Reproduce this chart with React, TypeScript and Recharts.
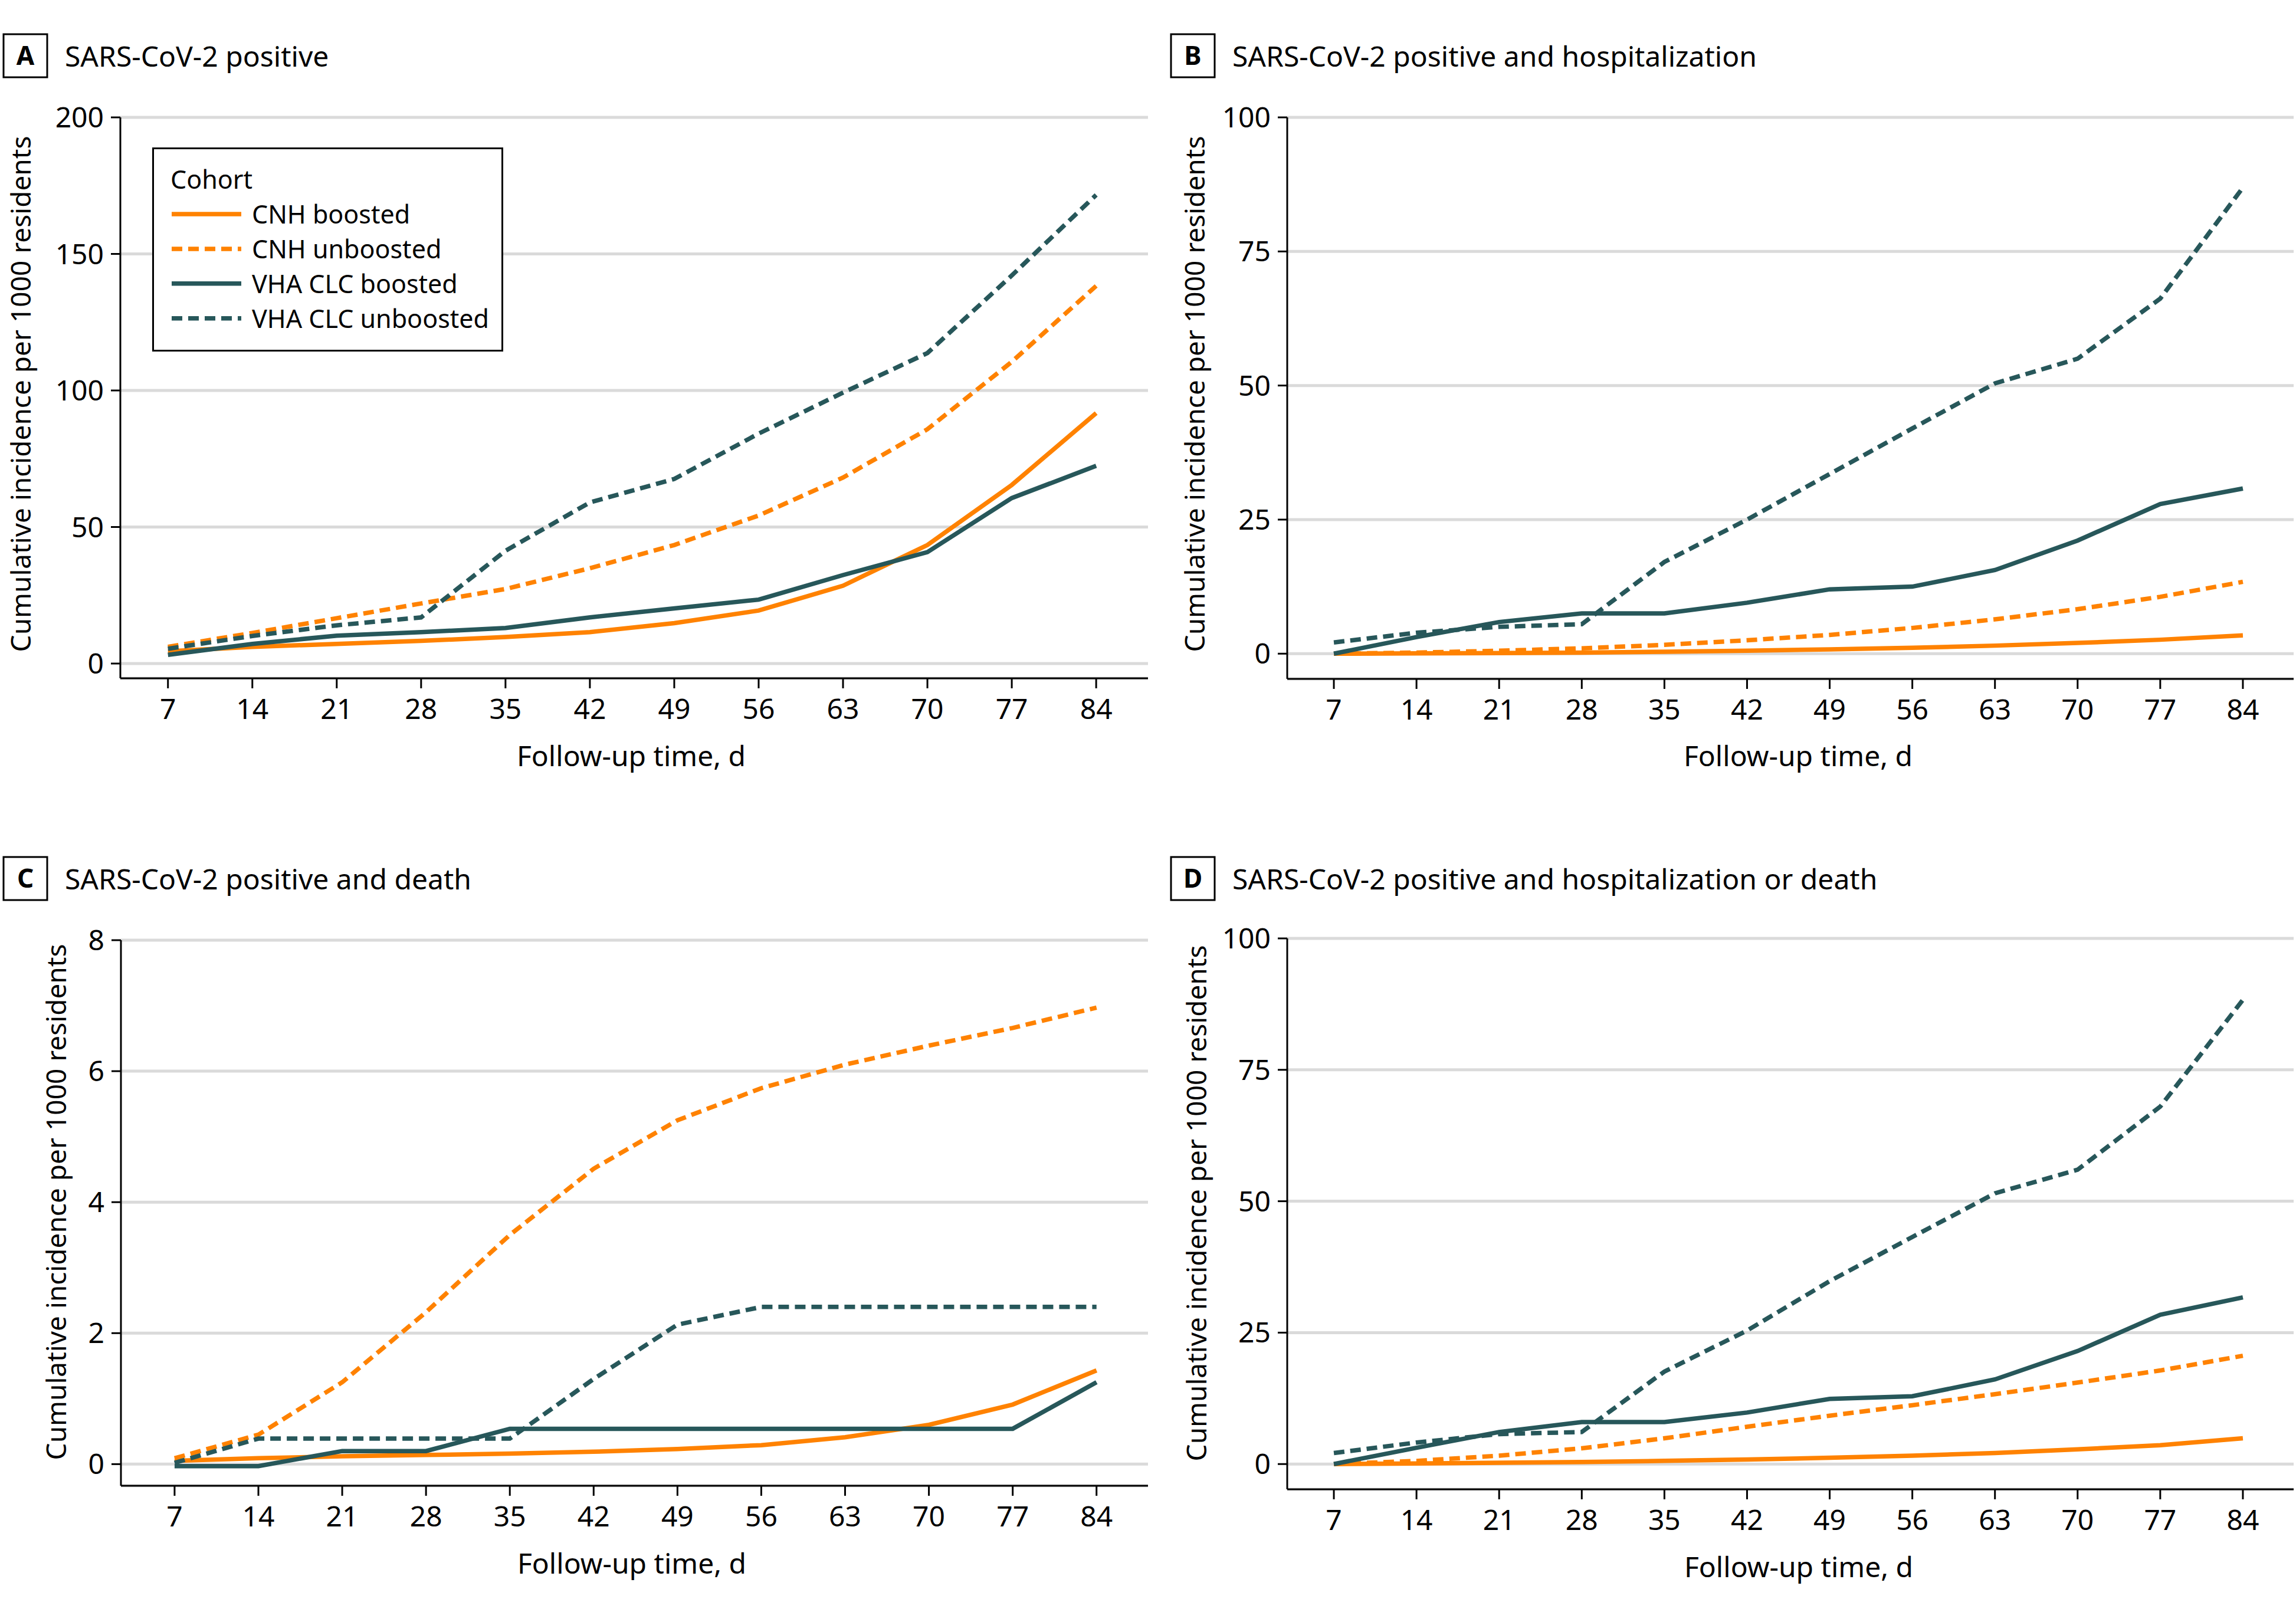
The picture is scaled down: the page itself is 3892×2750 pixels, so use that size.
import { LineChart, Line, XAxis, YAxis, CartesianGrid, Legend } from 'recharts'

const ORANGE = '#ff8200'
const TEAL = '#27575a'
const GRID = '#dadada'
const FONT = '"Noto Sans", "DejaVu Sans", sans-serif'

const DAYS = [7, 14, 21, 28, 35, 42, 49, 56, 63, 70, 77, 84]

// A: SARS-CoV-2 positive
const A_CNH_BOOSTED = [4.5, 6.1, 7.2, 8.3, 9.7, 11.5, 14.8, 19.4, 28.5, 43.4, 65.4, 91.7]
const A_CNH_UNBOOSTED = [6.1, 11.2, 16.6, 22.0, 27.3, 34.9, 43.4, 54.2, 68.1, 85.8, 110.5, 138.3]
const A_VHA_BOOSTED = [3.2, 7.2, 10.2, 11.5, 13.0, 16.9, 20.2, 23.4, 32.4, 40.8, 60.6, 72.4]
const A_VHA_UNBOOSTED = [5.4, 10.1, 14.0, 16.9, 41.3, 59.0, 67.6, 84.2, 99.2, 113.7, 142.1, 171.6]

// B: positive and hospitalization
const B_CNH_BOOSTED = [0, 0.05, 0.1, 0.2, 0.35, 0.55, 0.8, 1.1, 1.5, 2.0, 2.6, 3.4]
const B_CNH_UNBOOSTED = [0, 0.2, 0.55, 1.0, 1.65, 2.5, 3.5, 4.8, 6.4, 8.3, 10.6, 13.4]
const B_VHA_BOOSTED = [0, 3.1, 5.9, 7.5, 7.5, 9.5, 12.0, 12.5, 15.6, 21.1, 27.9, 30.8]
const B_VHA_UNBOOSTED = [2.1, 3.9, 5.0, 5.5, 17.1, 25.0, 33.5, 42.0, 50.4, 55.0, 66.2, 86.9]

// C: positive and death
const C_CNH_BOOSTED = [0.05, 0.09, 0.12, 0.14, 0.16, 0.19, 0.23, 0.29, 0.41, 0.6, 0.91, 1.43]
const C_CNH_UNBOOSTED = [0.09, 0.45, 1.25, 2.32, 3.5, 4.51, 5.25, 5.74, 6.1, 6.39, 6.66, 6.97]
const C_VHA_BOOSTED = [-0.03, -0.03, 0.2, 0.2, 0.54, 0.54, 0.54, 0.54, 0.54, 0.54, 0.54, 1.25]
const C_VHA_UNBOOSTED = [0.02, 0.39, 0.39, 0.39, 0.39, 1.3, 2.13, 2.4, 2.4, 2.4, 2.4, 2.4]

// D: positive and hospitalization or death
const D_CNH_BOOSTED = [0, 0.1, 0.26, 0.4, 0.6, 0.86, 1.2, 1.6, 2.1, 2.8, 3.6, 4.9]
const D_CNH_UNBOOSTED = [0, 0.6, 1.6, 3.0, 4.9, 7.1, 9.2, 11.2, 13.3, 15.5, 17.8, 20.6]
const D_VHA_BOOSTED = [0, 3.1, 6.1, 8.0, 8.0, 9.8, 12.4, 12.9, 16.1, 21.5, 28.4, 31.7]
const D_VHA_UNBOOSTED = [2.1, 4.1, 5.7, 6.1, 17.6, 25.4, 34.8, 43.2, 51.5, 56.0, 68.0, 88.3]

const TICKS_200 = [0, 50, 100, 150, 200]
const TICKS_100 = [0, 25, 50, 75, 100]
const TICKS_8 = [0, 2, 4, 6, 8]

const SERIES = [
  { key: 'cnhB', name: 'CNH boosted', color: ORANGE, dash: undefined },
  { key: 'cnhU', name: 'CNH unboosted', color: ORANGE, dash: '18 10' },
  { key: 'vhaB', name: 'VHA CLC boosted', color: TEAL, dash: undefined },
  { key: 'vhaU', name: 'VHA CLC unboosted', color: TEAL, dash: '18 10' },
]

const Y_LABEL = 'Cumulative incidence per 1000 residents'
const X_LABEL = 'Follow-up time, d'

function rows(cnhB: number[], cnhU: number[], vhaB: number[], vhaU: number[]) {
  return DAYS.map((day, i) => ({ day, cnhB: cnhB[i], cnhU: cnhU[i], vhaB: vhaB[i], vhaU: vhaU[i] }))
}

function CohortLegend() {
  return (
    <div style={{ width: 595, height: 346, boxSizing: 'border-box', border: '3px solid #000', background: '#fff', fontFamily: FONT }}>
      <svg width={589} height={340}>
        <text x={28} y={67} fontSize={43} fill="#000">Cohort</text>
        {SERIES.map((s, i) => {
          const y = 110 + i * 58.9
          return (
            <g key={s.key}>
              <line x1={30} x2={148} y1={y} y2={y} stroke={s.color} strokeWidth={7.5} strokeDasharray={s.dash} />
              <text x={166} y={y + 16} fontSize={43} fill="#000">{s.name}</text>
            </g>
          )
        })}
      </svg>
    </div>
  )
}

interface PanelProps {
  left: number
  top: number
  width: number
  margin: { top: number; right: number; bottom: number; left: number }
  yWidth: number
  xDomain: [number, number]
  yDomain: [number, number]
  yTicks: number[]
  data: ReturnType<typeof rows>
  legend?: boolean
}

function Panel({ left, top, width, margin, yWidth, xDomain, yDomain, yTicks, data, legend }: PanelProps) {
  const axis = { stroke: '#000', strokeWidth: 3 }
  return (
    <div style={{ position: 'absolute', left, top }}>
      <LineChart width={width} height={1340} data={data} margin={margin}>
        <CartesianGrid vertical={false} stroke={GRID} strokeWidth={5} />
        <XAxis
          type="number" dataKey="day" domain={xDomain} ticks={DAYS} interval={0} allowDataOverflow
          height={120} tickSize={17} tickMargin={18} axisLine={axis} tickLine={axis}
          tick={{ fontSize: 48, fill: '#000', fontFamily: FONT }}
        />
        <YAxis
          domain={yDomain} ticks={yTicks} interval={0} allowDataOverflow width={yWidth}
          tickSize={16} tickMargin={12} axisLine={axis} tickLine={axis}
          tick={{ fontSize: 48, fill: '#000', fontFamily: FONT }}
        />
        {SERIES.map((s) => (
          <Line
            key={s.key} type="linear" dataKey={s.key} name={s.name} stroke={s.color} strokeWidth={7.5}
            strokeDasharray={s.dash} dot={false} activeDot={false} isAnimationActive={false}
          />
        ))}
        {legend && (
          <Legend
            layout="vertical" align="center" verticalAlign="middle"
            wrapperStyle={{ left: 258, top: 250, width: 595, height: 346 }}
            content={() => <CohortLegend />}
          />
        )}
      </LineChart>
    </div>
  )
}

const TITLES = [
  { letter: 'A', text: 'SARS-CoV-2 positive', bx: 6, by: 58 },
  { letter: 'B', text: 'SARS-CoV-2 positive and hospitalization', bx: 1985, by: 58 },
  { letter: 'C', text: 'SARS-CoV-2 positive and death', bx: 6, by: 1453 },
  { letter: 'D', text: 'SARS-CoV-2 positive and hospitalization or death', bx: 1985, by: 1453 },
]

const Y_LABELS = [
  { x: 52, y: 668 },
  { x: 2042, y: 668 },
  { x: 112, y: 2038 },
  { x: 2045, y: 2040 },
]

const X_LABELS = [
  { x: 1070, y: 1299 },
  { x: 3048, y: 1299 },
  { x: 1071, y: 2668 },
  { x: 3049, y: 2674 },
]

export default function App() {
  return (
    <div style={{ position: 'absolute', left: 0, top: 0, width: 3892, height: 2750, background: '#fff', overflow: 'hidden' }}>
      <Panel
        left={0} top={0} width={1960} margin={{ top: 199, right: 14, bottom: 70, left: 0 }} yWidth={204}
        xDomain={[3.05, 88.3]} yDomain={[-5.4, 200]} yTicks={TICKS_200}
        data={rows(A_CNH_BOOSTED, A_CNH_UNBOOSTED, A_VHA_BOOSTED, A_VHA_UNBOOSTED)} legend
      />
      <Panel
        left={1960} top={0} width={1932} margin={{ top: 199, right: 4, bottom: 69, left: 0 }} yWidth={222}
        xDomain={[3.05, 88.3]} yDomain={[-4.7, 100]} yTicks={TICKS_100}
        data={rows(B_CNH_BOOSTED, B_CNH_UNBOOSTED, B_VHA_BOOSTED, B_VHA_UNBOOSTED)}
      />
      <Panel
        left={0} top={1400} width={1960} margin={{ top: 194, right: 14, bottom: 101, left: 0 }} yWidth={205}
        xDomain={[2.52, 88.3]} yDomain={[-0.33, 8]} yTicks={TICKS_8}
        data={rows(C_CNH_BOOSTED, C_CNH_UNBOOSTED, C_VHA_BOOSTED, C_VHA_UNBOOSTED)}
      />
      <Panel
        left={1960} top={1400} width={1932} margin={{ top: 191, right: 4, bottom: 95, left: 0 }} yWidth={222}
        xDomain={[3.05, 88.3]} yDomain={[-4.8, 100]} yTicks={TICKS_100}
        data={rows(D_CNH_BOOSTED, D_CNH_UNBOOSTED, D_VHA_BOOSTED, D_VHA_UNBOOSTED)}
      />
      <svg width={3892} height={2750} style={{ position: 'absolute', left: 0, top: 0, pointerEvents: 'none' }} fontFamily={FONT}>
        {TITLES.map((t) => (
          <g key={t.letter}>
            <rect x={t.bx} y={t.by} width={74} height={73} fill="none" stroke="#000" strokeWidth={3} />
            <text x={t.bx + 37} y={t.by + 52} fontSize={44} fontWeight={700} textAnchor="middle" fill="#000">{t.letter}</text>
            <text x={t.bx + 104} y={t.by + 55} fontSize={48} fill="#000">{t.text}</text>
          </g>
        ))}
        {Y_LABELS.map((l, i) => (
          <text key={i} x={l.x} y={l.y} fontSize={46} textAnchor="middle" fill="#000" transform={`rotate(-90 ${l.x} ${l.y})`}>
            {Y_LABEL}
          </text>
        ))}
        {X_LABELS.map((l, i) => (
          <text key={i} x={l.x} y={l.y} fontSize={48} textAnchor="middle" fill="#000">{X_LABEL}</text>
        ))}
      </svg>
    </div>
  )
}
